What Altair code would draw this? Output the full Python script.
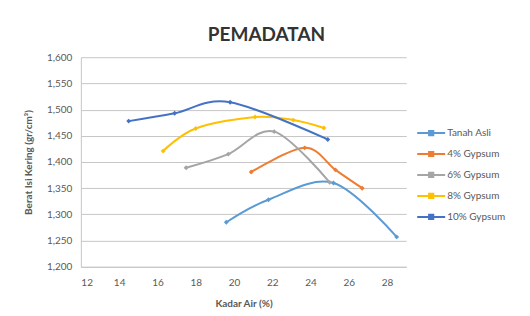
import altair as alt
import pandas as pd

series = ["Tanah Asli", "4% Gypsum", "6% Gypsum", "8% Gypsum", "10% Gypsum"]
colors = ["#5B9BD5", "#ED7D31", "#A5A5A5", "#FFC000", "#4472C4"]

tanah_x = [19.6, 21.8, 25.2, 28.5]
tanah_y = [1.285, 1.328, 1.360, 1.257]
g4_x = [20.9, 23.7, 25.3, 26.7]
g4_y = [1.381, 1.427, 1.385, 1.350]
g6_x = [17.5, 19.7, 22.1, 25.0]
g6_y = [1.389, 1.415, 1.458, 1.361]
g8_x = [16.3, 18.0, 21.1, 23.1, 24.7]
g8_y = [1.421, 1.464, 1.486, 1.480, 1.465]
g10_x = [14.5, 16.9, 19.8, 24.9]
g10_y = [1.478, 1.493, 1.514, 1.443]

x_ticks = [12, 14, 16, 18, 20, 22, 24, 26, 28]
y_ticks = [1.20, 1.25, 1.30, 1.35, 1.40, 1.45, 1.50, 1.55, 1.60]

rows = []
for name, xs, ys in zip(series,
                        [tanah_x, g4_x, g6_x, g8_x, g10_x],
                        [tanah_y, g4_y, g6_y, g8_y, g10_y]):
    for xv, yv in zip(xs, ys):
        rows.append({"seri": name, "kadar": xv, "berat": yv})
df = pd.DataFrame(rows)

FONT = "Lato"
TXT = "#595959"

x_enc = alt.X("kadar:Q",
              scale=alt.Scale(domain=[12, 29], nice=False, zero=False),
              axis=alt.Axis(values=x_ticks, title="Kadar Air (%)", grid=False,
                            labelPadding=11, titlePadding=11))
y_enc = alt.Y("berat:Q",
              scale=alt.Scale(domain=[1.2, 1.6], nice=False, zero=False),
              axis=alt.Axis(values=y_ticks,
                            labelExpr="replace(format(datum.value, '.3f'), '.', ',')",
                            title="Berat Isi Kering (gr/cm³)",
                            labelPadding=9, titlePadding=13))

lines = alt.Chart(df).mark_line(interpolate="cardinal", strokeWidth=2).encode(
    x=x_enc, y=y_enc,
    color=alt.Color("seri:N", scale=alt.Scale(domain=series, range=colors),
                    legend=alt.Legend(title=None, orient="none", legendX=343, legendY=68,
                                      symbolType="M-2,0L2,0M-0.3,-0.3L0.3,-0.3L0.3,0.3L-0.3,0.3Z",
                                      symbolSize=196, symbolStrokeWidth=2,
                                      labelFontSize=10, labelColor=TXT, labelFont=FONT,
                                      labelOffset=8, rowPadding=6, padding=0)),
)
points = alt.Chart(df).mark_point(filled=True, shape="diamond", size=24, opacity=1).encode(
    x=x_enc, y=y_enc,
    color=alt.Color("seri:N", scale=alt.Scale(domain=series, range=colors), legend=None),
)

chart = alt.layer(lines, points).properties(
    width=326, height=210,
    autosize="none",
    padding={"left": 73, "top": 49, "right": 116, "bottom": 43},
    title=alt.Title("PEMADATAN", fontSize=19, fontWeight="bold", font=FONT, color="#333333",
                    frame="group", anchor="middle", baseline="middle", dx=23, dy=26, offset=24),
).configure_view(stroke=None).configure_axis(
    labelFont=FONT, titleFont=FONT, labelFontSize=10, titleFontSize=10,
    labelColor=TXT, titleColor=TXT, titleFontWeight="bold",
    gridColor="#c6c6c6", domainColor="#c6c6c6", ticks=False,
)

chart.save("out.html", embed_options={"renderer": "svg", "actions": False})
